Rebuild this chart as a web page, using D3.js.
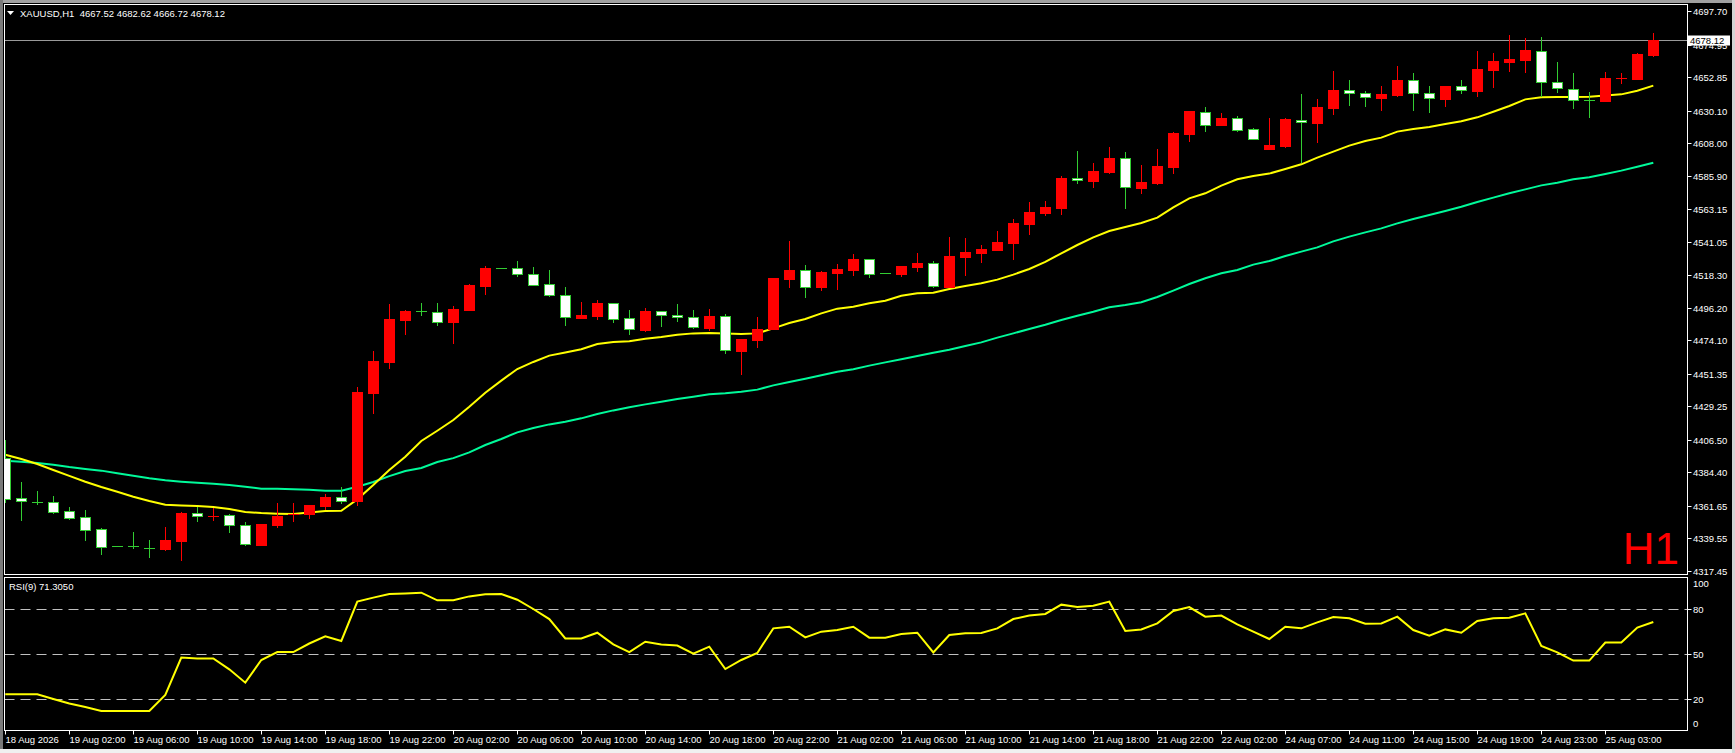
<!DOCTYPE html>
<html>
<head>
<meta charset="utf-8">
<script src="https://cdnjs.cloudflare.com/ajax/libs/d3/7.8.5/d3.min.js"></script>
<style>
  body { margin: 0; background: #000; overflow: hidden; }
  svg { display: block; }
  text { font-family: "Liberation Sans", Arial, sans-serif; font-size: 9.5px; fill: #fff; }
</style>
</head>
<body>
<div id="chart"></div>
<script>
// XAUUSD H1 bars, 18 Aug 22:00 .. 25 Aug 06:00
var opens = [4393.9,4366.8,4364.6,4364.1,4358.0,4353.9,4345.7,4334.3,4334.2,4333.4,
  4332.6,4338.0,4356.6,4354.7,4355.2,4348.4,4335.3,4348.9,4355.9,4356.1,
  4361.8,4367.5,4364.7,4438.5,4459.6,4487.9,4493.9,4493.1,4486.5,4494.7,
  4511.2,4523.0,4523.0,4518.9,4512.1,4504.6,4489.5,4490.8,4499.2,4489.0,
  4481.3,4493.8,4491.1,4489.7,4482.7,4490.4,4467.1,4474.5,4481.5,4515.7,
  4521.6,4510.1,4520.0,4521.8,4529.1,4519.6,4519.3,4524.1,4526.3,4510.5,
  4530.9,4533.6,4535.6,4540.4,4553.3,4560.8,4564.2,4584.1,4582.3,4588.4,
  4597.7,4577.7,4580.9,4591.8,4614.4,4628.9,4620.3,4624.8,4617.3,4604.0,
  4606.0,4623.9,4621.6,4631.8,4643.8,4641.8,4638.9,4640.7,4650.6,4641.8,
  4638.2,4646.5,4643.6,4657.9,4663.3,4664.7,4670.8,4649.3,4645.0,4637.4,
  4636.8,4652.0,4651.8,4667.52];
var highs = [4406.4,4377.6,4371.8,4368.4,4360.9,4358.9,4346.6,4334.4,4343.9,4338.5,
  4347.3,4357.5,4360.7,4360.0,4356.1,4350.5,4349.6,4363.6,4363.4,4362.2,
  4369.7,4374.3,4442.4,4466.8,4498.7,4494.7,4499.6,4499.6,4497.4,4512.3,
  4524.5,4523.1,4527.9,4523.9,4521.8,4510.1,4500.1,4501.5,4499.4,4494.7,
  4496.0,4494.0,4498.7,4494.7,4495.4,4492.0,4475.2,4489.7,4516.6,4541.5,
  4525.2,4521.2,4525.9,4532.7,4529.3,4519.7,4524.8,4533.4,4527.9,4544.2,
  4543.6,4538.8,4548.3,4556.5,4568.0,4568.7,4585.7,4602.6,4594.5,4605.4,
  4602.0,4593.1,4604.0,4615.5,4630.0,4632.5,4628.2,4626.4,4618.3,4625.0,
  4625.0,4641.3,4637.9,4656.9,4650.9,4643.2,4646.8,4660.6,4655.6,4646.8,
  4647.0,4650.8,4670.5,4669.0,4681.4,4679.1,4679.8,4662.8,4655.6,4642.5,
  4656.3,4655.4,4669.0,4682.62];
var lows = [4363.8,4351.6,4362.3,4356.1,4352.1,4338.0,4328.3,4334.1,4332.4,4326.5,
  4331.2,4324.5,4350.9,4351.6,4343.5,4334.6,4335.2,4346.9,4350.9,4353.0,
  4358.9,4362.9,4361.6,4424.1,4454.8,4477.7,4490.6,4483.8,4471.6,4494.0,
  4504.8,4522.8,4516.9,4511.0,4503.7,4484.0,4488.8,4488.1,4486.1,4477.9,
  4480.0,4483.4,4486.5,4481.8,4480.6,4465.0,4450.8,4469.1,4481.1,4509.8,
  4503.0,4507.8,4508.3,4518.0,4516.6,4519.4,4517.1,4520.7,4509.6,4510.2,
  4518.0,4526.8,4535.4,4528.9,4545.8,4558.7,4559.4,4580.5,4577.7,4587.2,
  4563.5,4573.7,4579.8,4587.3,4609.0,4615.8,4620.1,4615.8,4610.1,4603.8,
  4604.7,4594.3,4608.1,4627.3,4633.4,4632.7,4629.8,4639.5,4630.0,4628.7,
  4632.7,4641.6,4639.5,4645.6,4656.5,4655.8,4639.5,4642.2,4630.9,4625.3,
  4636.1,4647.9,4651.6,4666.72];
var closes = [4366.1,4364.8,4364.3,4357.7,4353.6,4345.5,4334.0,4334.2,4333.8,4333.1,
  4338.5,4356.8,4354.6,4354.9,4348.4,4335.6,4349.4,4354.8,4356.4,4362.0,
  4367.5,4364.7,4439.0,4460.0,4488.6,4494.0,4493.6,4486.7,4495.3,4511.6,
  4523.2,4522.9,4518.9,4511.9,4504.6,4489.6,4491.0,4499.2,4488.3,4481.5,
  4494.0,4491.1,4489.7,4482.9,4490.6,4467.3,4475.0,4481.8,4516.4,4521.8,
  4510.1,4520.5,4522.5,4529.3,4519.3,4519.5,4524.6,4526.3,4510.7,4531.3,
  4534.1,4536.1,4540.8,4553.7,4561.2,4564.6,4584.3,4582.7,4589.1,4597.9,
  4577.9,4581.6,4592.5,4614.9,4629.8,4620.5,4625.0,4617.1,4611.0,4606.5,
  4624.4,4622.1,4632.5,4644.1,4641.8,4639.1,4641.3,4650.9,4641.8,4638.4,
  4646.8,4643.8,4658.1,4663.5,4664.9,4671.0,4649.3,4645.2,4637.3,4637.2,
  4652.0,4652.3,4668.5,4678.12];

// moving averages (yellow fast, green slow)
var maFast = [4396.4,4393.5,4390.1,4386.0,4382.0,4378.1,4374.5,4371.3,4367.9,4365.0,
  4362.5,4362.0,4361.6,4360.9,4359.5,4357.5,4356.8,4356.4,4356.1,4357.1,
  4358.2,4358.4,4366.1,4375.8,4386.0,4395.1,4405.7,4412.7,4420.0,4429.0,
  4438.5,4446.7,4454.6,4459.4,4463.7,4465.8,4468.0,4471.6,4472.9,4473.4,
  4475.2,4476.3,4477.9,4478.8,4479.1,4478.8,4478.4,4478.8,4482.2,4485.8,
  4488.6,4492.4,4495.6,4496.9,4499.2,4501.0,4504.4,4506.0,4506.4,4508.9,
  4511.0,4512.8,4515.3,4518.7,4522.5,4527.3,4533.2,4538.8,4544.0,4548.3,
  4551.0,4553.8,4557.4,4564.4,4570.5,4573.9,4579.1,4583.4,4585.7,4587.3,
  4590.4,4593.6,4598.1,4602.2,4606.3,4609.4,4611.7,4615.8,4617.6,4618.9,
  4621.0,4622.8,4625.5,4629.3,4633.2,4637.7,4639.1,4639.3,4639.3,4639.5,
  4640.4,4641.1,4643.6,4647.0];
var maSlow = [4392.3,4391.7,4390.8,4389.6,4388.0,4386.7,4385.6,4383.8,4382.2,4380.4,
  4379.0,4378.1,4377.4,4376.7,4375.8,4374.7,4373.3,4373.3,4372.9,4372.7,
  4372.0,4372.0,4374.7,4377.9,4381.9,4385.3,4387.4,4391.5,4394.1,4398.0,
  4403.0,4407.1,4411.6,4414.5,4417.0,4418.8,4421.1,4424.0,4426.5,4428.6,
  4430.6,4432.4,4434.2,4435.8,4437.4,4438.1,4439.2,4440.6,4443.5,4445.8,
  4448.0,4450.3,4452.8,4454.4,4456.9,4459.1,4461.2,4463.4,4465.7,4467.7,
  4470.2,4472.7,4475.9,4478.8,4481.8,4484.7,4487.9,4490.8,4493.5,4496.5,
  4498.0,4499.9,4503.5,4507.8,4512.3,4516.2,4519.6,4521.8,4525.5,4527.9,
  4531.3,4534.3,4537.2,4541.3,4544.5,4547.4,4550.1,4553.5,4556.5,4559.2,
  4561.9,4564.8,4568.0,4571.0,4573.9,4576.6,4579.3,4581.1,4583.4,4584.8,
  4587.0,4589.3,4592.0,4594.7];

var rsi = [23.1,23.1,23.1,20,17,14.7,12,12,12,12,
  22.7,47.6,47,47,39.8,30.9,46,51.3,51.3,57,
  61.8,58.7,84.9,87.6,90,90.4,90.9,85.8,85.8,88.4,
  89.8,90,86.2,80,73.3,60.4,60.4,64.2,56.4,51.3,
  58.2,56.4,55.6,50.2,54.9,40,46,50.7,67.1,68.2,
  61.1,64.9,66,68.2,60.9,60.9,63.3,64.2,51.1,62.7,
  63.8,64,67.1,73.3,75.6,76.7,82.9,81.3,82.2,84.9,
  65.3,66.4,70.4,78.7,81.3,74.9,75.6,69.8,64.9,60,
  68.2,67.1,71.1,74.7,73.8,70.2,70.4,74.9,66,62.2,
  66.4,64.2,72,73.8,74.2,77.1,55.3,51.1,45.6,45.6,
  57.6,57.6,67.6,71.305];

// one time label every 4 bars
var timeLabels = ["18 Aug 2026","19 Aug 02:00","19 Aug 06:00","19 Aug 10:00","19 Aug 14:00",
  "19 Aug 18:00","19 Aug 22:00","20 Aug 02:00","20 Aug 06:00","20 Aug 10:00","20 Aug 14:00",
  "20 Aug 18:00","20 Aug 22:00","21 Aug 02:00","21 Aug 06:00","21 Aug 10:00","21 Aug 14:00",
  "21 Aug 18:00","21 Aug 22:00","22 Aug 02:00","24 Aug 07:00","24 Aug 11:00","24 Aug 15:00",
  "24 Aug 19:00","24 Aug 23:00","25 Aug 03:00"];
var priceTicks = [4697.70,4674.95,4652.85,4630.10,4608.00,4585.90,4563.15,4541.05,4518.30,
  4496.20,4474.10,4451.35,4429.25,4406.50,4384.40,4361.65,4339.55,4317.45];
var rsiTicks = [100, 80, 50, 20, 0];
var rsiLevels = [80, 50, 20];
var lastPrice = 4678.12;

var width = 1735, height = 753;
var left = 4.5, right = 1687.5;
var main = {top: 4.5, bottom: 574.5};
var sub = {top: 577.5, bottom: 730.5};

var svg = d3.select("#chart").append("svg").attr("width", width).attr("height", height);

// window frame
svg.append("rect").attr("x", 0).attr("y", 0).attr("width", width).attr("height", 3).attr("fill", "#a0a0a0");
svg.append("rect").attr("x", 0).attr("y", 0).attr("width", 3).attr("height", height).attr("fill", "#7a7a7a");
svg.append("rect").attr("x", 0).attr("y", 749).attr("width", width).attr("height", 4).attr("fill", "#f0f0f0");
svg.append("rect").attr("x", 1732).attr("y", 0).attr("width", 3).attr("height", height).attr("fill", "#d4d4d4");

var x = d3.scaleLinear().domain([0, 103]).range([5.3, 5.3 + 16 * 103]);
var y = d3.scaleLinear().domain([4317.45, 4697.70]).range([571, 11]);
var yr = d3.scaleLinear().domain([0, 100]).range([729, 579]);
var px = i => Math.round(x(i)) + 0.5;

var defs = svg.append("defs");
defs.append("clipPath").attr("id", "clipMain").append("rect")
  .attr("x", left + 0.5).attr("y", main.top + 0.5).attr("width", right - left - 1).attr("height", main.bottom - main.top - 1);
defs.append("clipPath").attr("id", "clipSub").append("rect")
  .attr("x", left + 0.5).attr("y", sub.top + 0.5).attr("width", right - left - 1).attr("height", sub.bottom - sub.top - 1);

var plot = svg.append("g").attr("clip-path", "url(#clipMain)");

// current price line
plot.append("line").attr("x1", left).attr("x2", right)
  .attr("y1", Math.round(y(lastPrice)) + 0.5).attr("y2", Math.round(y(lastPrice)) + 0.5)
  .attr("stroke", "#9a9a9a").attr("stroke-width", 1);

// moving averages
var line = d3.line().x((d, i) => x(i)).y(d => y(d));
plot.append("path").datum(maSlow).attr("d", line).attr("fill", "none")
  .attr("stroke", "#00fa9a").attr("stroke-width", 2);
plot.append("path").datum(maFast).attr("d", line).attr("fill", "none")
  .attr("stroke", "#ffff00").attr("stroke-width", 2);

// candles
var bars = d3.range(opens.length);
var bull = i => closes[i] > opens[i];
var candles = plot.selectAll("g.candle").data(bars).enter().append("g").attr("class", "candle")
  .attr("shape-rendering", "crispEdges");

candles.append("line")
  .attr("x1", px).attr("x2", px)
  .attr("y1", i => y(highs[i])).attr("y2", i => y(lows[i]))
  .attr("stroke", i => bull(i) ? "#ff0000" : "#32cd32").attr("stroke-width", 1);

candles.each(function(i) {
  var g = d3.select(this);
  var top = Math.round(y(Math.max(opens[i], closes[i])));
  var bot = Math.round(y(Math.min(opens[i], closes[i])));
  var cx = Math.round(x(i));
  if (bot - top < 2) {
    g.append("line").attr("x1", cx - 5).attr("x2", cx + 6)
      .attr("y1", top + 0.5).attr("y2", top + 0.5)
      .attr("stroke", bull(i) ? "#ff0000" : "#32cd32");
  } else if (bull(i)) {
    g.append("rect").attr("x", cx - 5).attr("y", top).attr("width", 11).attr("height", bot - top + 1)
      .attr("fill", "#ff0000");
  } else {
    g.append("rect").attr("x", cx - 4.5).attr("y", top + 0.5).attr("width", 10).attr("height", bot - top)
      .attr("fill", "#ffffff").attr("stroke", "#32cd32").attr("stroke-width", 1);
  }
});

// panel borders
svg.append("rect").attr("x", left).attr("y", main.top).attr("width", right - left).attr("height", main.bottom - main.top)
  .attr("fill", "none").attr("stroke", "#fff");
svg.append("rect").attr("x", left).attr("y", sub.top).attr("width", right - left).attr("height", sub.bottom - sub.top)
  .attr("fill", "none").attr("stroke", "#fff");

// price axis
var priceAxis = svg.append("g");
priceTicks.forEach(function(p) {
  var yy = Math.round(y(p)) + 0.5;
  priceAxis.append("line").attr("x1", right).attr("x2", right + 4).attr("y1", yy).attr("y2", yy).attr("stroke", "#fff");
  priceAxis.append("text").attr("x", 1693).attr("y", yy + 3.5).text(p.toFixed(2));
});

// last price tag
var ly = Math.round(y(lastPrice));
svg.append("rect").attr("x", 1688).attr("y", ly - 4.5).attr("width", 42).attr("height", 10).attr("fill", "#fff");
svg.append("text").attr("x", 1690).attr("y", ly + 3.5).style("fill", "#000").text(lastPrice.toFixed(2));

// title
svg.append("path").attr("d", "M7,11 L14,11 L10.5,15 Z").attr("fill", "#fff");
svg.append("text").attr("x", 20).attr("y", 16.5).attr("xml:space", "preserve")
  .text("XAUUSD,H1  " + [opens, highs, lows, closes].map(a => a[a.length - 1].toFixed(2)).join(" "));

svg.append("text").attr("x", 1679).attr("y", 564).attr("text-anchor", "end")
  .style("font-size", "44px").style("fill", "#ff0000").text("H1");

// RSI panel
var subPlot = svg.append("g").attr("clip-path", "url(#clipSub)");
rsiLevels.forEach(function(v) {
  var yy = Math.round(yr(v)) + 0.5;
  subPlot.append("line").attr("x1", left).attr("x2", right).attr("y1", yy).attr("y2", yy)
    .attr("stroke", "#c0c0c0").attr("stroke-dasharray", "10,6");
});
subPlot.append("path").datum(rsi)
  .attr("d", d3.line().x((d, i) => x(i)).y(d => yr(d)))
  .attr("fill", "none").attr("stroke", "#ffff00").attr("stroke-width", 2);

svg.append("text").attr("x", 9).attr("y", 590).text("RSI(9) " + rsi[rsi.length - 1].toFixed(4));

rsiTicks.forEach(function(v) {
  var yy = Math.round(yr(v)) + 0.5;
  var shift = v === 100 ? 4 : (v === 0 ? -6 : 0);
  if (v !== 100 && v !== 0) {
    svg.append("line").attr("x1", right).attr("x2", right + 4).attr("y1", yy).attr("y2", yy).attr("stroke", "#fff");
  }
  svg.append("text").attr("x", 1693).attr("y", yy + shift + 3.5).text(v);
});

// time axis
timeLabels.forEach(function(t, k) {
  var xx = px(k * 4);
  svg.append("line").attr("x1", xx).attr("x2", xx).attr("y1", sub.bottom).attr("y2", sub.bottom + 4).attr("stroke", "#fff");
  svg.append("text").attr("x", xx).attr("y", 742.5).text(t);
});
</script>
</body>
</html>
